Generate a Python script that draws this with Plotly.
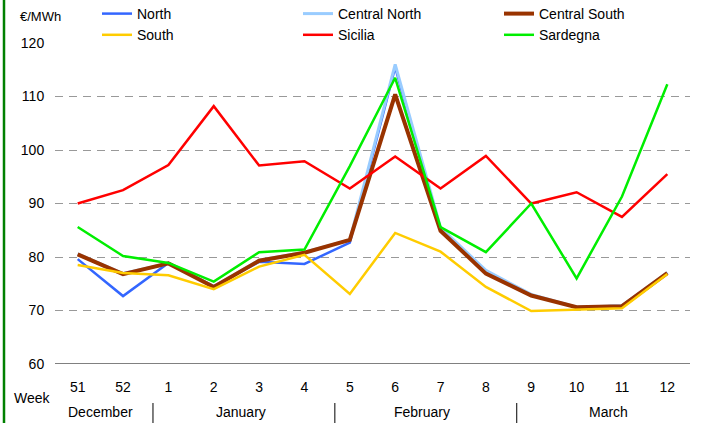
import plotly.graph_objects as go

# weekly prices, weeks 51-52 of December through week 12 of March
weeks = ["51", "52", "1", "2", "3", "4", "5", "6", "7", "8", "9", "10", "11", "12"]
north = [79.6, 72.7, 78.9, 74.5, 79.1, 78.7, 82.7, 115.5, 85.0, 77.2, 72.9, 70.6, 70.9, 77.0]
central_north = [80.6, 76.9, 78.8, 74.5, 79.4, 80.9, 83.2, 116.0, 85.5, 77.5, 73.0, 70.6, 70.9, 77.1]
central_south = [80.5, 76.8, 78.8, 74.4, 79.3, 80.8, 83.2, 110.4, 84.9, 76.9, 72.8, 70.6, 70.8, 77.0]
south = [78.5, 77.0, 76.6, 74.0, 78.2, 80.4, 73.1, 84.5, 81.0, 74.4, 69.9, 70.2, 70.4, 76.8]
sicilia = [90.0, 92.5, 97.2, 108.2, 97.1, 97.9, 92.8, 98.8, 92.8, 98.9, 90.0, 92.1, 87.5, 95.5]
sardegna = [85.6, 80.2, 78.9, 75.4, 80.9, 81.4, 97.0, 113.5, 85.6, 80.9, 90.0, 76.0, 91.3, 112.3]

months = ["December", "January", "February", "March"]
month_pos = [0.5, 3.6, 7.6, 11.7]
month_breaks = [1.66, 5.67, 9.68]

series = [
    ("North", north, "#3366FF", 2.5),
    ("Central North", central_north, "#99CCFF", 3),
    ("Central South", central_south, "#993300", 4),
    ("South", south, "#FFCC00", 2.5),
    ("Sicilia", sicilia, "#FF0000", 2.5),
    ("Sardegna", sardegna, "#00EE00", 2.5),
]

x = list(range(len(weeks)))
fig = go.Figure()
for name, vals, color, w in series:
    fig.add_trace(go.Scatter(x=x, y=vals, name=name, mode="lines",
                             line=dict(color=color, width=w)))

font = "Liberation Sans, Arial, sans-serif"
fig.update_layout(
    width=702, height=423,
    margin=dict(l=55, r=12, t=43, b=59, autoexpand=False),
    plot_bgcolor="white", paper_bgcolor="white",
    font=dict(family=font, size=14, color="black"),
    showlegend=True,
    legend=dict(orientation="h", xref="container", yref="paper",
                x=97 / 702, y=1 + 45 / 321, xanchor="left", yanchor="top",
                entrywidth=156, bgcolor="rgba(0,0,0,0)",
                font=dict(size=14), tracegroupgap=0),
    xaxis=dict(range=[-0.5, 13.5], tickmode="array", tickvals=x, ticktext=weeks,
               showgrid=False, zeroline=False, showline=False,
               ticks="outside", ticklen=10, tickcolor="rgba(0,0,0,0)"),
    yaxis=dict(range=[60, 120], dtick=10, showgrid=True, gridcolor="#999999",
               griddash="8px,6px", gridwidth=1, zeroline=False, showline=False,
               ticks="outside", ticklen=7, tickcolor="rgba(0,0,0,0)"),
)

# axis line at 60
fig.add_shape(type="line", xref="paper", yref="y", x0=0, x1=1, y0=60, y1=60,
              line=dict(color="black", width=1))

# green border on the left
fig.add_shape(type="line", xref="paper", yref="paper", x0=-51 / 635, x1=-51 / 635,
              y0=-59 / 321, y1=1 + 43 / 321, line=dict(color="#008000", width=2.5))

# month separators
for b in month_breaks:
    fig.add_shape(type="line", xref="x", yref="paper", x0=b, x1=b,
                  y0=(364 - 403) / 321, y1=(364 - 423) / 321,
                  line=dict(color="black", width=1))

for m, p in zip(months, month_pos):
    fig.add_annotation(x=p, y=(364 - 412) / 321, xref="x", yref="paper", text=m,
                       xanchor="center", yanchor="middle",
                       showarrow=False, font=dict(size=14))

fig.add_annotation(x=(32 - 55) / 635, y=(364 - 398) / 321, xref="paper", yref="paper",
                   text="Week", xanchor="center", yanchor="middle",
                   showarrow=False, font=dict(size=14))
fig.add_annotation(x=(40 - 55) / 635, y=1 + 26 / 321, xref="paper", yref="paper",
                   text="€/MWh", xanchor="center", yanchor="middle",
                   showarrow=False, font=dict(size=13))

fig.write_html("out.html", config={"displayModeBar": False},
               post_script="document.body.style.margin='0';")
